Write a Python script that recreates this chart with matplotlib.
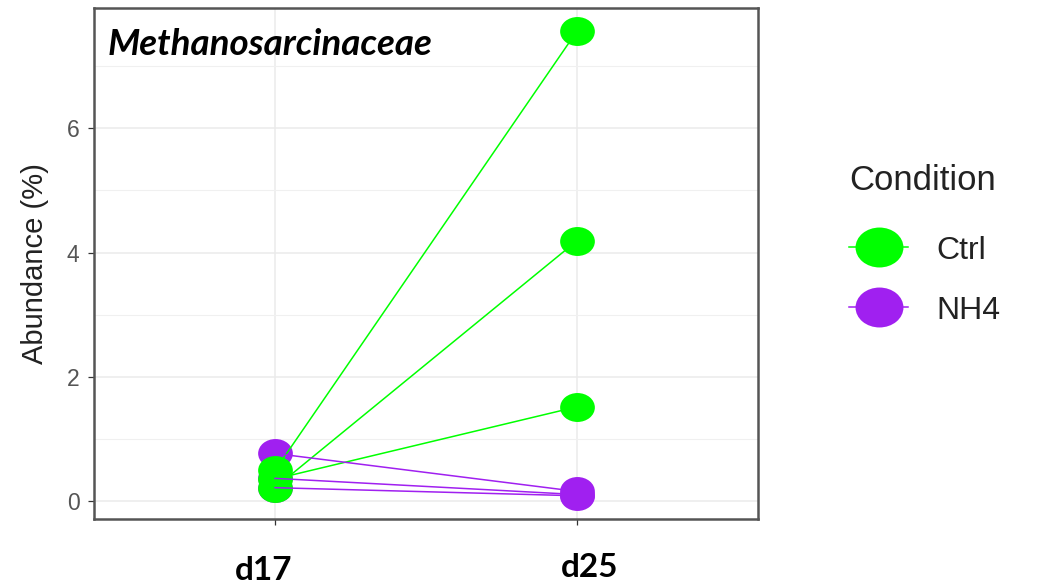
import numpy as np
import matplotlib
matplotlib.use("Agg")
import matplotlib.pyplot as plt
from matplotlib.path import Path
from matplotlib.transforms import Affine2D
from matplotlib.lines import Line2D

# Sampling days and relative abundance (%) of Methanosarcinaceae per replicate
days = ["d17", "d25"]
conditions = ["Ctrl", "NH4"]
ctrl_d17 = [0.50, 0.22, 0.36]
ctrl_d25 = [7.56, 4.19, 1.52]
nh4_d17 = [0.77, 0.37, 0.22]
nh4_d25 = [0.16, 0.11, 0.09]
y_ticks = [0, 2, 4, 6]

colors = {"Ctrl": "#00FF00", "NH4": "#A020F0"}
series = {"Ctrl": (ctrl_d17, ctrl_d25), "NH4": (nh4_d17, nh4_d25)}

# slightly wide oval marker
oval = Path.unit_circle().transformed(Affine2D().scale(1.2, 1.0))

plt.rcParams["font.family"] = ["Liberation Sans", "DejaVu Sans"]

fig = plt.figure(figsize=(10.58, 5.86), dpi=100)
ax = fig.add_axes([94 / 1058, 1 - 519 / 586, 664 / 1058, 511 / 586])

xpos = np.arange(1, len(days) + 1)

# points first (NH4 underneath Ctrl), connecting lines on top
for cond in ["NH4", "Ctrl"]:
    first, second = series[cond]
    for a, b in zip(first, second):
        ax.plot(xpos, [a, b], linestyle="none", marker=oval, markersize=25,
                color=colors[cond], markeredgewidth=0, zorder=3)
for cond in ["Ctrl", "NH4"]:
    first, second = series[cond]
    for a, b in zip(first, second):
        ax.plot(xpos, [a, b], color=colors[cond], lw=1.1, zorder=4)

# ggplot-like expansion of the scales
all_vals = np.concatenate([ctrl_d17, ctrl_d25, nh4_d17, nh4_d25])
lo, hi = all_vals.min(), all_vals.max()
pad = 0.05 * (hi - lo)
ax.set_ylim(lo - pad, hi + pad)
ax.set_xlim(1 - 0.6, len(days) + 0.6)

ax.set_xticks(xpos)
ax.set_xticklabels([])
ax.set_yticks(y_ticks)
ax.set_yticks(np.arange(1, 8, 2), minor=True)
ax.tick_params(axis="y", which="minor", length=0)
ax.tick_params(axis="both", which="major", length=4.5, width=0.9, color="#333333",
               labelsize=16.5, labelcolor="#555555", pad=6)

ax.grid(True, which="major", color="#EBEBEB", lw=1.1)
ax.grid(True, which="minor", axis="y", color="#F0F0F0", lw=0.8)
ax.set_axisbelow(True)
for sp in ax.spines.values():
    sp.set_color("#555555")
    sp.set_linewidth(1.8)

ax.set_ylabel("Abundance (%)", fontsize=21, color="#222222")
ax.yaxis.set_label_coords(-0.068, 0.5)

ax.text(0.021, 0.908, "Methanosarcinaceae", transform=ax.transAxes,
        fontsize=26.5, fontweight="bold", fontstyle="italic", family="Lato",
        va="baseline", ha="left", color="black")

# day labels beneath the axis
fig.text(264 / 1058, 1 - 580 / 586, days[0], fontsize=24, fontweight="bold",
         family="Lato", ha="center", va="baseline")
fig.text(590 / 1058, 1 - 577 / 586, days[1], fontsize=24, fontweight="bold",
         family="Lato", ha="center", va="baseline")

handles = [Line2D([], [], color=colors[c], lw=1.1, marker=oval, markersize=34.5,
                  markeredgewidth=0) for c in conditions]
leg = fig.legend(handles, conditions, loc="upper left",
                 bbox_to_anchor=(849 / 1058, 1 - 163.5 / 586), frameon=False,
                 title="Condition", title_fontsize=25, fontsize=23,
                 alignment="left", borderpad=0, borderaxespad=0,
                 handlelength=1.85, handleheight=1.0,
                 handletextpad=0.9, labelspacing=0.875)
# a little more room between the title and the first key
leg._legend_box.sep = 27
leg.get_title().set_color("#222222")
for t in leg.get_texts():
    t.set_color("#222222")

fig.savefig("out.png", dpi=100)
